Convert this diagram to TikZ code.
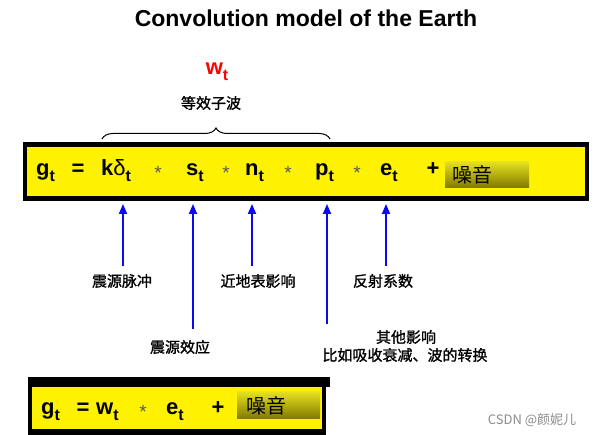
\documentclass[tikz,border=0pt]{standalone}
\usepackage{fontspec}
\setmainfont{Liberation Sans}
\newfontfamily\cjk{Noto Sans CJK SC}
\newfontfamily\cjkb[FakeBold=1.2]{Noto Sans CJK SC}
\usetikzlibrary{arrows.meta,decorations.pathreplacing}
\newcommand{\mysub}[1]{\raisebox{-6pt}{\fontsize{16}{16}\selectfont #1}}
\definecolor{noisetop}{RGB}{228,224,30}
\definecolor{noisebot}{RGB}{128,120,0}
\definecolor{arrowblue}{RGB}{10,10,235}
\begin{document}
\begin{tikzpicture}[x=1pt,y=-1pt,
  term/.style={anchor=base west,inner sep=0pt,font=\fontsize{22}{22}\selectfont\bfseries},
  op/.style={anchor=base,inner sep=0pt,font=\fontsize{22}{22}\selectfont\bfseries},
  conv/.style={anchor=center,inner sep=0pt,text=black!65,font=\fontsize{19}{19}\selectfont},
  lab/.style={inner sep=0pt,font=\cjkb\fontsize{15}{15}\selectfont},
  noisetxt/.style={anchor=base west,inner sep=0pt,font=\cjk\fontsize{20}{20}\selectfont},
  up/.style={draw=arrowblue,line width=1.8pt,-{Triangle[length=10pt,width=8pt]}},
  noiseshade/.style={top color=noisetop,bottom color=noisebot}]
\useasboundingbox (0,0) rectangle (600,435);
\fill[white] (0,0) rectangle (600,435);
% title
\node[inner sep=0pt,font=\fontsize{23}{23}\selectfont\bfseries] (title) at (306,18) {Convolution model of the Earth};
% wavelet label
\node[inner sep=0pt,text=red,font=\fontsize{22}{22}\selectfont\bfseries] (wt) at (217,72) {w\mysub{t}};
\node[lab] (dxzb) at (211,103) {等效子波};
\draw[line width=1pt,decorate,decoration={brace,amplitude=11pt}] (102,139) -- (330,139);
% main box
\fill[black] (23,142) rectangle (589,201);
\fill[yellow] (27,147) rectangle (585,196);
\node[term] (g1) at (36,176) {g\mysub{t}};
\node[op] (eq1) at (78,176) {=};
\node[term] (k1) at (101,176) {k{\mdseries δ}\mysub{t}};
\node[conv] (c1) at (158,173) {*};
\node[term] (s1) at (186,176) {s\mysub{t}};
\node[conv] (c2) at (226,173) {*};
\node[term] (n1) at (245,176) {n\mysub{t}};
\node[conv] (c3) at (288,173) {*};
\node[term] (p1) at (315,176) {p\mysub{t}};
\node[conv] (c4) at (357,173) {*};
\node[term] (e1) at (380,176) {e\mysub{t}};
\node[op] (plus1) at (433,176) {+};
\shade[noiseshade] (445,162) rectangle (529,188);
\node[noisetxt] (noise1) at (452,183) {噪音};
% arrows
\coordinate (tk) at (123,204); \coordinate (bk) at (123,266);
\coordinate (ts) at (193,204); \coordinate (bs) at (193,329);
\coordinate (tn) at (252,204); \coordinate (bn) at (252,266);
\coordinate (tp) at (327,204); \coordinate (bp) at (327,324);
\coordinate (te) at (386,204); \coordinate (be) at (386,266);
\draw[up] (bk) -- (tk);
\draw[up] (bs) -- (ts);
\draw[up] (bn) -- (tn);
\draw[up] (bp) -- (tp);
\draw[up] (be) -- (te);
\node[lab] (l1) at (122,281) {震源脉冲};
\node[lab] (l2) at (180,347) {震源效应};
\node[lab] (l3) at (258,281) {近地表影响};
\node[lab] (l4) at (383,281) {反射系数};
\node[lab] (l5) at (406,337) {其他影响};
\node[lab] (l6) at (405,355) {比如吸收衰减、波的转换};
% bottom box
\fill[black] (28,377) rectangle (326,435);
\fill[black] (28,377) rectangle (330,387);
\fill[yellow] (32,387) rectangle (322,429);
\node[term] (g2) at (41,415) {g\mysub{t}};
\node[op] (eq2) at (83,415) {=};
\node[term] (w2) at (96,415) {w\mysub{t}};
\node[conv] (c5) at (143,412) {*};
\node[term] (e2) at (166,415) {e\mysub{t}};
\node[op] (plus2) at (218,415) {+};
\shade[noiseshade] (237,392) rectangle (320,419);
\node[noisetxt] (noise2) at (246,414) {噪音};
% watermark
\node[inner sep=0pt,text=black!45,font=\cjk\fontsize{13}{13}\selectfont] (wm) at (532,420) {CSDN @颜妮儿};
\end{tikzpicture}
\end{document}
